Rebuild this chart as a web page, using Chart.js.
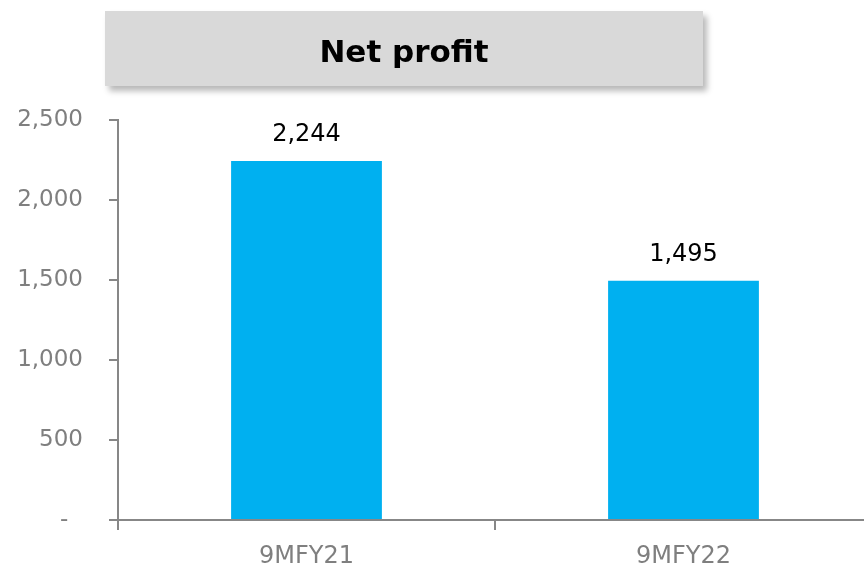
<!DOCTYPE html>
<html>
<head>
<meta charset="utf-8">
<script src="https://cdn.jsdelivr.net/npm/chart.js@4/dist/chart.umd.min.js"></script>
<style>
  html, body { margin: 0; padding: 0; background: #fff; overflow: hidden; width: 864px; height: 570px; }
  #wrap { position: absolute; left: 0; top: 0; width: 880px; height: 570px; }
  .title-box {
    position: absolute; left: 105px; top: 11px; width: 598px; height: 75px;
    background: #d9d9d9; box-shadow: 4px 5px 6px rgba(0,0,0,0.28);
    font-family: "DejaVu Sans", sans-serif; font-weight: bold; font-size: 31px;
    color: #000; text-align: center; line-height: 81px; z-index: 2;
  }
</style>
</head>
<body>
<div id="wrap"><canvas id="chart" width="880" height="570"></canvas></div>
<div class="title-box">Net profit</div>
<script>
// data
const categories = ['9MFY21', '9MFY22']
const netProfit = [2244, 1495]
const yTickLabels = ['-  ', '500', '1,000', '1,500', '2,000', '2,500']

const axisGrey = '#878787'
const textGrey = '#7f7f7f'

// draws the value above each bar
const barValues = {
    id: 'barValues',
    afterDatasetsDraw(chart) {
        const ctx = chart.ctx
        const meta = chart.getDatasetMeta(0)
        ctx.save()
        ctx.font = '24px "DejaVu Sans"'
        ctx.fillStyle = '#000'
        ctx.textAlign = 'center'
        ctx.textBaseline = 'alphabetic'
        meta.data.forEach((bar, i) => {
            ctx.fillText(netProfit[i].toLocaleString('en-US'), bar.x, bar.y - 20)
        })
        ctx.restore()
    }
}

const ctx = document.getElementById('chart').getContext('2d')
new Chart(ctx, {
    type: 'bar',
    data: {
        labels: categories,
        datasets: [{
            label: 'Net profit',
            data: netProfit,
            backgroundColor: '#00b0f0',
            barPercentage: 0.4,
            categoryPercentage: 1
        }]
    },
    options: {
        responsive: false,
        animation: false,
        events: [],
        layout: { padding: { top: 120, right: 8, left: 0, bottom: 0 } },
        plugins: { legend: { display: false }, tooltip: { enabled: false } },
        scales: {
            x: {
                afterFit: s => { s.height = 50 },
                border: { display: true, color: axisGrey, width: 2 },
                grid: { offset: true, drawOnChartArea: false, color: axisGrey, lineWidth: 2, tickLength: 10 },
                ticks: { color: textGrey, padding: 12, font: { family: 'DejaVu Sans', size: 24 } }
            },
            y: {
                min: 0, max: 2500,
                afterFit: s => { s.width = 118 },
                border: { display: true, color: axisGrey, width: 2 },
                grid: { drawOnChartArea: false, color: axisGrey, lineWidth: 2, tickLength: 9 },
                ticks: {
                    stepSize: 500,
                    color: textGrey,
                    padding: 26,
                    font: { family: 'DejaVu Sans', size: 23 },
                    callback: (v, i) => yTickLabels[i]
                }
            }
        }
    },
    plugins: [barValues]
})
</script>
</body>
</html>
